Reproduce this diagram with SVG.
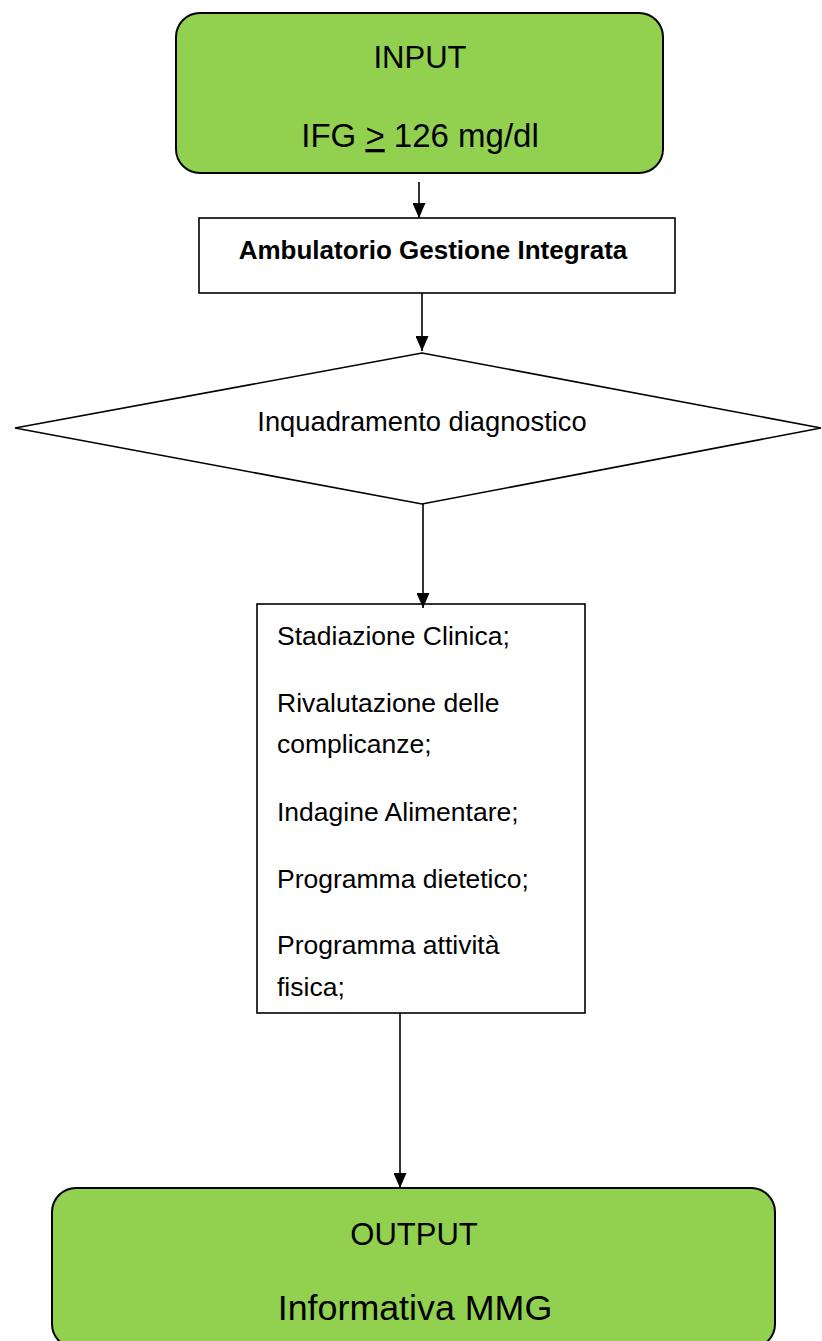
<svg xmlns="http://www.w3.org/2000/svg" width="822" height="1341" viewBox="0 0 822 1341">
  <style>
    .term { fill: #92D050; stroke: #000; stroke-width: 2; }
    .box { fill: #fff; stroke: #000; stroke-width: 1.6; }
    .t { font-family: "Liberation Sans", Arial, sans-serif; fill: #000; }
    .c { text-anchor: middle; }
    .li { font-size: 26.5px; }
    .conn { stroke: #000; stroke-width: 1.6; fill: none; marker-end: url(#arrow); }
  </style>
  <defs>
    <marker id="arrow" viewBox="0 0 15 13" refX="15" refY="6.5" markerWidth="15" markerHeight="13" markerUnits="userSpaceOnUse" orient="auto">
      <path d="M0,0 L15,6.5 L0,13 z" fill="#000"/>
    </marker>
  </defs>
  <rect width="822" height="1341" fill="#fff"/>

  <g id="input">
    <rect class="term" x="176" y="13" width="487" height="160" rx="24" ry="24"/>
    <text class="t c" x="420" y="68" font-size="31">INPUT</text>
    <text class="t c" x="420" y="147" font-size="33">IFG <tspan text-decoration="underline">&gt;</tspan> 126 mg/dl</text>
  </g>

  <g id="ambulatorio">
    <rect class="box" x="199" y="218" width="476" height="75"/>
    <text class="t c" x="433" y="259" font-size="26" font-weight="bold">Ambulatorio Gestione Integrata</text>
  </g>

  <g id="inquadramento">
    <polygon class="box" points="422,353 821,428 422,504 15,428"/>
    <text class="t c" x="422" y="431" font-size="27.3">Inquadramento diagnostico</text>
  </g>

  <g id="attivita">
    <rect class="box" x="257" y="604" width="328" height="409"/>
    <text class="t li" x="277" y="645">Stadiazione Clinica;</text>
    <text class="t li" x="277" y="712">Rivalutazione delle</text>
    <text class="t li" x="277" y="753">complicanze;</text>
    <text class="t li" x="277" y="821">Indagine Alimentare;</text>
    <text class="t li" x="277" y="888">Programma dietetico;</text>
    <text class="t li" x="277" y="954">Programma attività</text>
    <text class="t li" x="277" y="996">fisica;</text>
  </g>

  <g id="output">
    <rect class="term" x="52" y="1188" width="723" height="160" rx="24" ry="24"/>
    <text class="t c" x="414" y="1245" font-size="31">OUTPUT</text>
    <text class="t c" x="415" y="1320" font-size="35.8">Informativa MMG</text>
  </g>

  <g id="connectors">
    <line class="conn" x1="419" y1="182" x2="419" y2="218"/>
    <line class="conn" x1="422" y1="293" x2="422" y2="351"/>
    <line class="conn" x1="423" y1="504" x2="423" y2="608"/>
    <line class="conn" x1="400" y1="1013" x2="400" y2="1188"/>
  </g>
</svg>
